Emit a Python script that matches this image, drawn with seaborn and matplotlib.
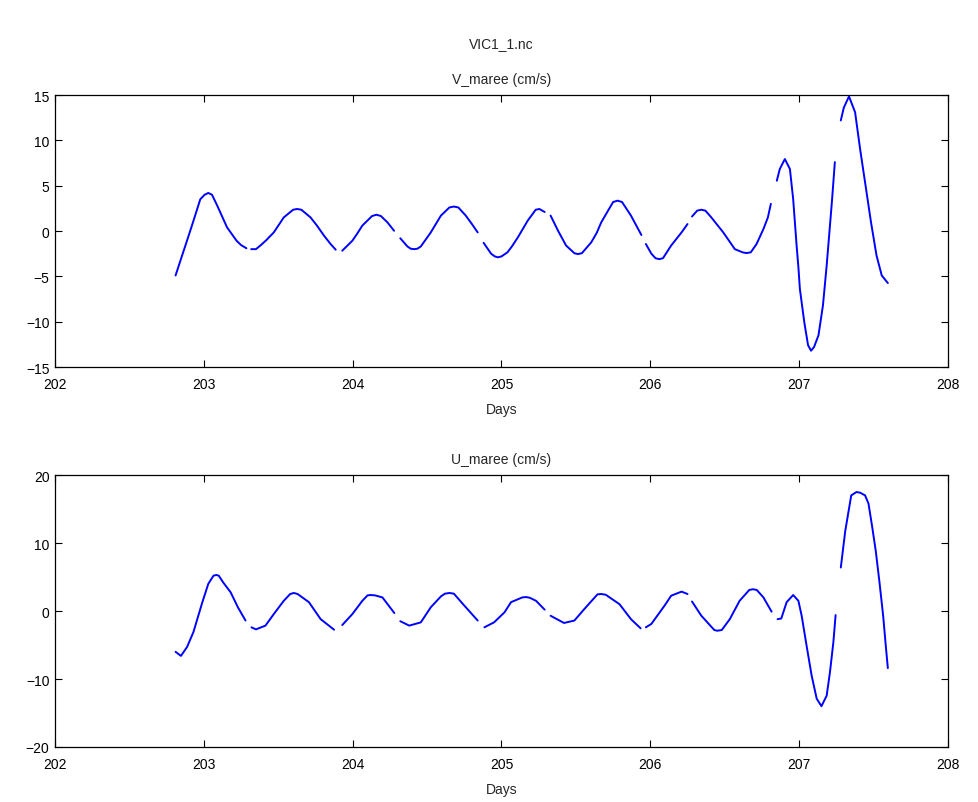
import numpy as np
import pandas as pd
import matplotlib
matplotlib.use("Agg")
import matplotlib.pyplot as plt
import seaborn as sns

# ---------------- data ----------------
fig_title = "VIC1_1.nc"
v_title = "V_maree (cm/s)"
u_title = "U_maree (cm/s)"
x_label = "Days"
x_ticks = [202, 203, 204, 205, 206, 207, 208]
v_ticks = [-15, -10, -5, 0, 5, 10, 15]
u_ticks = [-20, -10, 0, 10, 20]

# V_maree : list of continuous segments (days, values)
v_days = [
    [202.81, 202.864, 202.92, 202.976, 203.005, 203.03, 203.055, 203.09, 203.156, 203.22, 203.25, 203.286],
    [203.318, 203.35, 203.38, 203.42, 203.47, 203.537, 203.60, 203.627, 203.655, 203.717, 203.76, 203.807, 203.85, 203.886],
    [203.93, 203.998, 204.03, 204.065, 204.13, 204.16, 204.19, 204.234, 204.278],
    [204.32, 204.368, 204.39, 204.413, 204.435, 204.458, 204.525, 204.593, 204.65, 204.68, 204.71, 204.76, 204.80, 204.84],
    [204.88, 204.93, 204.955, 204.975, 205.0, 205.04, 205.07, 205.11, 205.176, 205.23, 205.255, 205.29],
    [205.33, 205.38, 205.434, 205.49, 205.513, 205.54, 205.603, 205.64, 205.67, 205.75, 205.78, 205.81, 205.87, 205.94],
    [205.97, 206.007, 206.035, 206.06, 206.085, 206.14, 206.21, 206.25],
    [206.28, 206.315, 206.343, 206.37, 206.41, 206.49, 206.568, 206.62, 206.646, 206.675, 206.714, 206.76, 206.79, 206.81],
    [206.85, 206.87, 206.904, 206.938, 206.96, 206.983, 206.995, 207.005, 207.035, 207.06, 207.08,
     207.10, 207.13, 207.16, 207.185, 207.22, 207.24],
    [207.28, 207.30, 207.335, 207.376, 207.41, 207.443, 207.483, 207.52, 207.555, 207.596],
]
v_vals = [
    [-4.9, -2.2, 0.6, 3.5, 4.0, 4.2, 4.0, 2.8, 0.4, -1.07, -1.55, -1.9],
    [-2.0, -2.0, -1.6, -1.0, -0.15, 1.5, 2.35, 2.43, 2.35, 1.5, 0.6, -0.5, -1.4, -2.06],
    [-2.17, -1.07, -0.3, 0.6, 1.65, 1.8, 1.65, 0.95, 0.03],
    [-0.8, -1.7, -1.95, -2.0, -1.95, -1.7, -0.15, 1.7, 2.6, 2.7, 2.6, 1.7, 0.8, -0.15],
    [-1.3, -2.5, -2.8, -2.9, -2.8, -2.35, -1.7, -0.7, 1.14, 2.35, 2.43, 2.1],
    [1.7, 0.03, -1.6, -2.45, -2.54, -2.45, -1.25, -0.2, 0.95, 3.2, 3.35, 3.2, 1.7, -0.44],
    [-1.43, -2.5, -3.0, -3.1, -3.0, -1.6, -0.15, 0.77],
    [1.6, 2.25, 2.35, 2.25, 1.5, -0.15, -2.0, -2.35, -2.43, -2.35, -1.43, 0.22, 1.5, 3.0],
    [5.55, 6.84, 7.94, 6.84, 3.5, -1.6, -4.0, -6.4, -10.1, -12.6, -13.2,
     -12.8, -11.5, -8.2, -3.8, 3.2, 7.6],
    [12.2, 13.6, 14.85, 13.1, 9.0, 5.37, 0.95, -2.7, -4.9, -5.74],
]

# U_maree : list of continuous segments (days, values)
u_days = [
    [202.81, 202.846, 202.887, 202.93, 202.99, 203.03, 203.065, 203.084, 203.10, 203.13, 203.18, 203.23, 203.28],
    [203.32, 203.35, 203.414, 203.47, 203.537, 203.58, 203.605, 203.63, 203.706, 203.785, 203.875],
    [203.93, 203.998, 204.065, 204.10, 204.12, 204.15, 204.2, 204.28],
    [204.32, 204.38, 204.458, 204.525, 204.593, 204.62, 204.65, 204.68, 204.75, 204.84],
    [204.885, 204.95, 205.02, 205.064, 205.14, 205.165, 205.19, 205.232, 205.29],
    [205.33, 205.42, 205.49, 205.557, 205.645, 205.67, 205.70, 205.793, 205.87, 205.935],
    [205.97, 206.007, 206.096, 206.14, 206.21, 206.25],
    [206.28, 206.343, 206.43, 206.45, 206.48, 206.534, 206.6, 206.665, 206.69, 206.715, 206.76, 206.815],
    [206.855, 206.88, 206.916, 206.96, 206.995, 207.017, 207.05, 207.084, 207.118,
     207.15, 207.185, 207.207, 207.23, 207.245],
    [207.28, 207.31, 207.35, 207.385, 207.41, 207.443, 207.466, 207.49, 207.515, 207.54, 207.565, 207.58, 207.596],
]
u_vals = [
    [-6.0, -6.6, -5.3, -3.1, 1.3, 4.0, 5.2, 5.3, 5.2, 4.2, 2.75, 0.5, -1.4],
    [-2.4, -2.7, -2.15, -0.45, 1.5, 2.5, 2.65, 2.5, 1.3, -1.2, -2.75],
    [-2.06, -0.45, 1.5, 2.3, 2.35, 2.3, 2.0, -0.3],
    [-1.5, -2.15, -1.67, 0.55, 2.15, 2.55, 2.65, 2.55, 0.8, -1.4],
    [-2.4, -1.67, -0.2, 1.3, 2.0, 2.05, 1.95, 1.5, 0.2],
    [-0.7, -1.76, -1.4, 0.3, 2.45, 2.5, 2.4, 1.0, -1.2, -2.55],
    [-2.4, -1.9, 0.8, 2.25, 2.85, 2.5],
    [1.4, -0.7, -2.8, -2.9, -2.8, -1.2, 1.5, 3.1, 3.2, 3.1, 2.0, -0.1],
    [-1.2, -1.1, 1.3, 2.35, 1.5, -0.7, -5.1, -9.5, -12.9,
     -14.0, -12.45, -9.0, -4.6, -0.6],
    [6.4, 11.8, 17.0, 17.5, 17.4, 17.0, 15.8, 12.5, 8.8, 4.2, -0.8, -4.6, -8.4],
]


def to_frame(days, vals):
    rows = []
    for i, (d, v) in enumerate(zip(days, vals)):
        for dd, vv in zip(d, v):
            rows.append({"day": dd, "value": vv, "seg": i})
    return pd.DataFrame(rows)


df_v = to_frame(v_days, v_vals)
df_u = to_frame(u_days, u_vals)

# ---------------- styling ----------------
sns.set_theme(style="ticks")
plt.rcParams["font.family"] = ["Liberation Sans", "DejaVu Sans"]
plt.rcParams["font.size"] = 10

fig = plt.figure(figsize=(9.79, 8.03), dpi=100)
ax1 = fig.add_axes([0.0562, 0.5417, 0.9121, 0.3387])
ax2 = fig.add_axes([0.0562, 0.0685, 0.9121, 0.3387])


def style(ax, yticks, title):
    ax.set_xlim(202, 208)
    ax.set_ylim(yticks[0], yticks[-1])
    ax.set_xticks(x_ticks)
    ax.set_yticks(yticks)
    ax.tick_params(direction="in", top=True, right=True, length=5, width=0.8,
                   labelsize=10, colors="black", pad=4)
    ax.tick_params(axis="x", pad=7)
    for s in ax.spines.values():
        s.set_visible(True)
        s.set_linewidth(0.9)
        s.set_color("black")
    ax.set_xlabel(x_label, fontsize=10, labelpad=8)
    ax.set_ylabel("")
    ax.set_title(title, fontsize=10, pad=9)
    ax.grid(False)
    leg = ax.get_legend()
    if leg is not None:
        leg.remove()


sns.lineplot(data=df_v, x="day", y="value", units="seg", estimator=None,
             color="#0000ff", linewidth=1.4, ax=ax1, sort=False)
sns.lineplot(data=df_u, x="day", y="value", units="seg", estimator=None,
             color="#0000ff", linewidth=1.4, ax=ax2, sort=False)

style(ax1, v_ticks, v_title)
style(ax2, u_ticks, u_title)

fig.text(0.512, 0.945, fig_title, ha="center", va="center", fontsize=10)

fig.savefig("out.png", dpi=100, facecolor="white")
